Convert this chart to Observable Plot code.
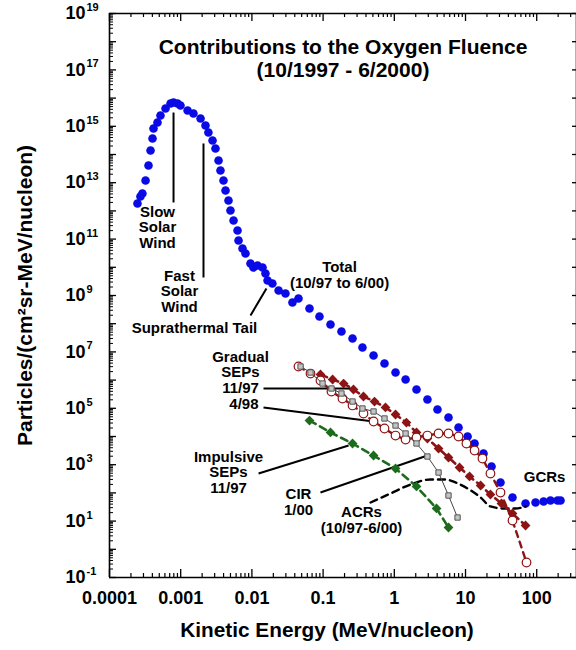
<!DOCTYPE html>
<html>
<head>
<meta charset="utf-8">
<script src="https://cdn.jsdelivr.net/npm/d3@7"></script>
<script src="https://cdn.jsdelivr.net/npm/@observablehq/plot@0.6"></script>
<style>
  html, body { margin: 0; padding: 0; background: #fff; overflow: hidden; }
</style>
</head>
<body>
<div id="chart"></div>
<script>
// Oxygen fluence spectra, energies in MeV/nucleon, fluences in particles/(cm² sr MeV/nucleon)

// Total fluence 10/97 – 6/00
const totalEnergy = [2.47e-4, 2.72e-4, 2.90e-4, 3.21e-4, 3.53e-4, 3.77e-4, 4.02e-4, 4.15e-4, 4.72e-4, 5.20e-4,
  6.12e-4, 7.20e-4, 7.93e-4, 9.02e-4, 9.93e-4, 1.25e-3, 1.51e-3, 1.90e-3, 2.23e-3, 2.45e-3,
  2.80e-3, 3.08e-3, 3.40e-3, 3.62e-3, 3.99e-3, 4.26e-3, 4.69e-3, 5.00e-3, 5.52e-3, 6.28e-3,
  6.49e-3, 7.38e-3, 8.13e-3, 9.55e-3, 1.05e-2, 1.20e-2, 1.41e-2, 1.55e-2, 1.66e-2, 1.94e-2,
  2.37e-2, 2.96e-2, 3.71e-2, 4.51e-2, 6.44e-2, 8.89e-2, 0.127, 0.181, 0.259, 0.357,
  0.511, 0.728, 1.04, 1.44, 2.05, 2.92, 4.04, 5.77, 7.98, 10.7,
  13.4, 17.9, 23.2, 31.0, 45.7, 69.7, 96.2, 125, 156, 196, 216];
const totalFluence = [1.83e12, 3.24e12, 4.14e12, 1.20e13, 4.07e13, 1.39e14, 3.69e14, 8.35e14, 1.36e15, 2.42e15,
  4.28e15, 6.44e15, 6.98e15, 6.44e15, 5.47e15, 3.63e15, 2.85e15, 1.89e15, 1.07e15, 6.03e14,
  3.13e14, 1.63e14, 6.13e13, 2.71e13, 1.20e13, 5.29e12, 2.34e12, 1.03e12, 4.57e11, 2.02e11,
  8.91e10, 4.64e10, 3.08e10, 1.36e10, 9.84e9, 1.16e10, 9.84e9, 6.03e9, 3.40e9, 2.67e9,
  1.50e9, 1.18e9, 5.65e8, 7.83e8, 3.46e8, 1.80e8, 9.37e7, 5.29e7, 2.99e7, 1.43e7,
  7.45e6, 3.88e6, 1.86e6, 1.05e6, 4.64e5, 2.05e5, 9.06e4, 4.72e4, 2.08e4, 1.00e4,
  5.65e3, 2.50e3, 863, 234, 68.7, 42.1, 45.7, 49.5, 53.7, 53.7, 53.7];

// Gradual SEP event 11/97
const grad1197Energy = [0.0918, 0.136, 0.194, 0.267, 0.369, 0.527, 0.752, 1.04, 1.48, 2.05,
  2.92, 4.18, 5.77, 8.24, 11.4, 16.3, 22.4, 32.0, 45.7, 69.7];
const grad1197Fluence = [1.58e6, 1.05e6, 7.57e5, 4.64e5, 2.62e5, 1.74e5, 1.07e5, 6.03e4, 3.13e4, 1.39e4,
  8.49e3, 3.75e3, 1.80e3, 796, 382, 183, 87.7, 42.1, 18.6, 6.98];

// Gradual SEP event 4/98
const grad498Energy = [0.0451, 0.0665, 0.0918, 0.131, 0.187, 0.259, 0.369, 0.511, 0.728, 1.04,
  1.44, 2.05, 2.92, 4.18, 5.77, 7.98, 10.3, 13.4, 17.3, 22.4, 31.0, 45.7, 71.9];
const grad498Fluence = [3.03e6, 1.71e6, 9.68e5, 3.94e5, 2.23e5, 1.26e5, 6.54e4, 3.40e4, 1.92e4, 1.08e4,
  7.83e3, 9.22e3, 1.08e4, 1.28e4, 1.28e4, 1.0e4, 5.65e3, 3.19e3, 1.66e3, 488, 103, 10.5, 0.340];

// Impulsive SEP event 11/97
const impEnergy = [0.0644, 0.127, 0.259, 0.511, 1.04, 2.05, 3.92, 5.77];
const impFluence = [3.69e4, 1.39e4, 5.65e3, 2.12e3, 733, 169, 28.0, 5.93];

// CIR 1/00
const cirEnergy = [0.0482, 0.0665, 0.0982, 0.131, 0.181, 0.259, 0.357, 0.511, 0.728, 1.04,
  1.44, 2.05, 2.92, 4.18, 5.77, 7.73];
const cirFluence = [3.03e6, 1.86e6, 7.57e5, 5.04e5, 3.35e5, 1.74e5, 9.84e4, 7.71e4, 4.35e4, 2.45e4,
  1.28e4, 5.65e3, 1.95e3, 529, 80.9, 13.4];

// Anomalous cosmic rays 10/97 – 6/00
const acrEnergy = [0.464, 0.885, 1.69, 3.22, 5.24, 7.24, 10.7, 16.3, 22.4, 34.2, 50.4, 69.7];
const acrFluence = [45.7, 95.2, 199, 299, 299, 234, 143, 68.7, 33.0, 28.0, 28.0, 33.0];

// Axis tick labels
const xTickValues = [1e-4, 1e-3, 1e-2, 0.1, 1, 10, 100];
const xTickLabels = ["0.0001", "0.001", "0.01", "0.1", "1", "10", "100"];
const yLabelExponents = [-1, 1, 3, 5, 7, 9, 11, 13, 15, 17, 19];

// Annotations (positions in energy / fluence units)
const notes = [
  {text: "Slow\nSolar\nWind", e: 4.72e-4, f: 2.58e11},
  {text: "Fast\nSolar\nWind", e: 9.62e-4, f: 1.39e9},
  {text: "Suprathermal Tail", e: 1.56e-3, f: 7.33e7},
  {text: "Total\n(10/97 to 6/00)", e: 0.170, f: 5.33e9},
  {text: "Gradual\nSEPs\n11/97", e: 6.92e-3, f: 1.86e6},
  {text: "Impulsive\nSEPs\n11/97", e: 4.69e-3, f: 529},
  {text: "CIR\n1/00", e: 0.0451, f: 47.6},
  {text: "ACRs\n(10/97-6/00)", e: 0.346, f: 10.9},
  {text: "GCRs", e: 129, f: 352}
];
const notesRight = [{text: "4/98", e: 0.0124, f: 1.36e5}];
const pointers = [
  {e1: 7.93e-4, f1: 3.08e15, e2: 7.93e-4, f2: 1.99e12},
  {e1: 2.09e-3, f1: 2.46e14, e2: 2.09e-3, f2: 4.35e9},
  {e1: 9.55e-3, f1: 1.95e8, e2: 1.60e-2, f2: 1.77e9},
  {e1: 0.01455, f1: 5.04e5, e2: 0.259, f2: 5.04e5},
  {e1: 0.01455, f1: 1.07e5, e2: 0.511, f2: 3.40e4},
  {e1: 0.0124, f1: 488, e2: 0.228, f2: 4.80e3},
  {e1: 0.0918, f1: 103, e2: 2.92, f2: 2.12e3}
];

const zip = (es, fs) => es.map((e, i) => ({e, f: fs[i]}));
const total = zip(totalEnergy, totalFluence);
const grad1197 = zip(grad1197Energy, grad1197Fluence);
const grad498 = zip(grad498Energy, grad498Fluence);
const imp = zip(impEnergy, impFluence);
const cir = zip(cirEnergy, cirFluence);
const acr = zip(acrEnergy, acrFluence);

const W = 576, H = 650;
const mL = 109, mR = 0, mT = 13, mB = 73;
const frameW = W - mL - mR, frameH = H - mT - mB;
const xMax = 362;

const xMajor = d3.range(-4, 3).map(k => Math.pow(10, k));
const xMinor = xMajor.flatMap(d => d3.range(2, 10).map(m => m * d)).filter(v => v <= xMax);
const yMajor = d3.range(-1, 20).map(k => Math.pow(10, k));
const yMinor = yMajor.slice(0, -1).flatMap(d => d3.range(2, 10).map(m => m * d));

const maroon = "#8c1414";
const green = "#1d6b1d";
const blue = "#0a0ae6";
const font = "'Liberation Sans', Arial, Helvetica, sans-serif";

const chart = Plot.plot({
  width: W, height: H,
  marginLeft: mL, marginRight: mR, marginTop: mT, marginBottom: mB,
  x: {type: "log", domain: [1e-4, xMax], axis: null},
  y: {type: "log", domain: [0.1, 1e19], axis: null},
  style: {fontFamily: font, background: "white", color: "black"},
  marks: [
    // frame
    Plot.ruleX([1e-4], {stroke: "black", strokeWidth: 1.6}),
    Plot.ruleX([xMax], {stroke: "black", strokeWidth: 1.6}),
    Plot.ruleY([0.1], {stroke: "black", strokeWidth: 1.6}),
    Plot.ruleY([1e19], {stroke: "black", strokeWidth: 1.6}),
    // bottom & top ticks (inward)
    Plot.tickX(xMajor, {x: d => d, insetTop: frameH - 8, stroke: "black", strokeWidth: 1.3}),
    Plot.tickX(xMinor, {x: d => d, insetTop: frameH - 4, stroke: "black", strokeWidth: 1.2}),
    Plot.tickX(xMajor, {x: d => d, insetBottom: frameH - 8, stroke: "black", strokeWidth: 1.3}),
    Plot.tickX(xMinor, {x: d => d, insetBottom: frameH - 4, stroke: "black", strokeWidth: 1.2}),
    // left & right ticks (inward)
    Plot.tickY(yMajor, {y: d => d, insetRight: frameW - 7, stroke: "black", strokeWidth: 1.3}),
    Plot.tickY(yMinor, {y: d => d, insetRight: frameW - 4, stroke: "black", strokeWidth: 1}),
    Plot.tickY(yMajor, {y: d => d, insetLeft: frameW - 4, stroke: "black", strokeWidth: 1.3}),
    // tick labels
    Plot.text(xTickValues, {x: d => d, text: (d, i) => xTickLabels[i], frameAnchor: "bottom", dy: 26,
      textAnchor: "middle", fontSize: 18, fontWeight: "bold", fill: "black"}),
    Plot.text(yLabelExponents, {y: k => Math.pow(10, k), text: () => "10", frameAnchor: "left",
      textAnchor: "end", dx: -24, fontSize: 18, fontWeight: "bold", fill: "black"}),
    Plot.text(yLabelExponents, {y: k => Math.pow(10, k), text: k => String(k), frameAnchor: "left",
      textAnchor: "start", dx: -23, dy: -6, fontSize: 11, fontWeight: "bold", fill: "black"}),
    // axis titles
    Plot.text(["Kinetic Energy (MeV/nucleon)"], {frameAnchor: "bottom", dx: -16, dy: 59,
      textAnchor: "middle", fontSize: 20.8, fontWeight: "bold", fill: "black"}),
    Plot.text(["Particles/(cm²sr-MeV/nucleon)"], {frameAnchor: "left", dx: -84, rotate: -90,
      textAnchor: "middle", lineAnchor: "middle", fontSize: 21, fontWeight: "bold", fill: "black"}),
    // title
    Plot.text(["Contributions to the Oxygen Fluence\n(10/1997 - 6/2000)"], {frameAnchor: "top", dy: 44.5,
      textAnchor: "middle", lineAnchor: "middle", lineHeight: 1.1, fontSize: 21, fontWeight: "bold", fill: "black"}),

    // pointer lines
    Plot.link(pointers, {x1: "e1", y1: "f1", x2: "e2", y2: "f2", stroke: "black", strokeWidth: 2}),

    // spectra
    Plot.dot(total, {x: "e", y: "f", r: 4.3, fill: blue}),
    Plot.line(acr, {x: "e", y: "f", stroke: "black", strokeWidth: 2.4, strokeDasharray: "7,5", curve: "monotone-x"}),
    Plot.line(imp, {x: "e", y: "f", stroke: green, strokeWidth: 2.6, strokeDasharray: "7,5"}),
    Plot.dot(imp, {x: "e", y: "f", symbol: "diamond2", r: 4.4, fill: green}),
    Plot.line(grad1197, {x: "e", y: "f", stroke: maroon, strokeWidth: 2.6, strokeDasharray: "7,5"}),
    Plot.dot(grad1197, {x: "e", y: "f", symbol: "diamond2", r: 4.4, fill: maroon}),
    Plot.line(grad498, {x: "e", y: "f", stroke: maroon, strokeWidth: 2.4, strokeDasharray: "6,5"}),
    Plot.dot(grad498, {x: "e", y: "f", r: 4.3, fill: "white", stroke: maroon, strokeWidth: 1.2}),
    Plot.line(cir, {x: "e", y: "f", stroke: "#444", strokeWidth: 1}),
    Plot.dot(cir, {x: "e", y: "f", symbol: "square", r: 3, fill: "#c4c4c4", stroke: "#555", strokeWidth: 1}),

    // annotation text
    Plot.text(notes, {x: "e", y: "f", text: "text", textAnchor: "middle", fontSize: 15, fontWeight: "bold",
      lineHeight: 1.04, lineAnchor: "middle", fill: "black"}),
    Plot.text(notesRight, {x: "e", y: "f", text: "text", textAnchor: "end", fontSize: 15, fontWeight: "bold",
      lineAnchor: "middle", fill: "black"})
  ]
});
document.getElementById("chart").appendChild(chart);
</script>
</body>
</html>
